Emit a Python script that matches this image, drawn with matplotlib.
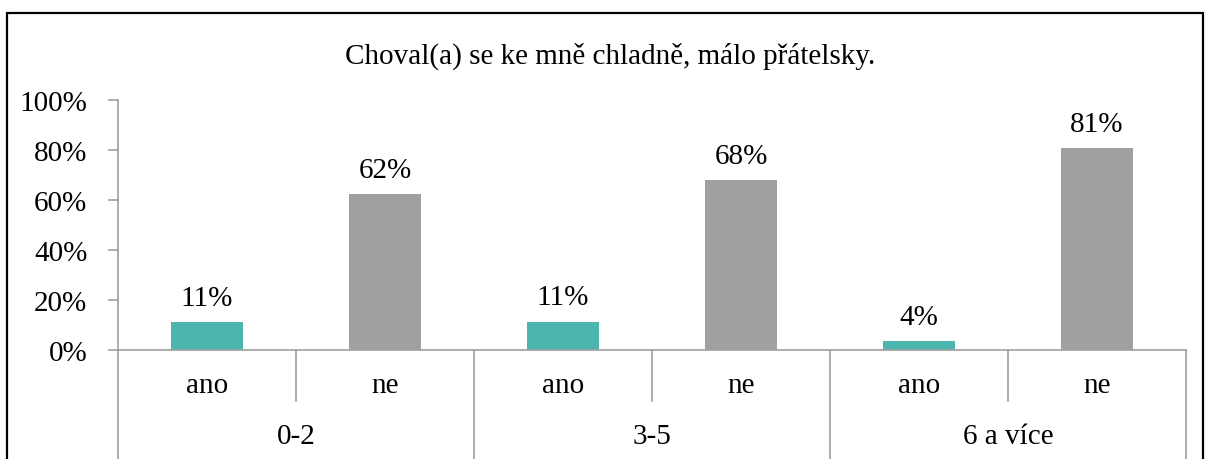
import matplotlib
matplotlib.use("Agg")
import matplotlib.pyplot as plt
from matplotlib.patches import Rectangle
import matplotlib.transforms as mtransforms

# data
title = "Choval(a) se ke mně chladně, málo přátelsky."
groups = ["0-2", "3-5", "6 a více"]
answers = ["ano", "ne"]
values = [11.2, 62.4, 11.4, 68.0, 3.6, 80.8]   # ano/ne per group, %
colors = {"ano": "#4BB5AE", "ne": "#A0A0A0"}

plt.rcParams["font.family"] = ["Liberation Serif", "DejaVu Serif"]
FS = 21
AX_COL = "#A0A0A0"

W, H = 1208, 460
fig = plt.figure(figsize=(W / 100, H / 100), dpi=100)

# outer frame
fig.patches.append(Rectangle((7 / W, -0.1), 1196 / W, 1.1 - 14 / H,
                             transform=fig.transFigure, fill=False,
                             edgecolor="black", linewidth=1.6))

ax = fig.add_axes([118 / W, (H - 351) / H, 1068 / W, 250 / H])

x = list(range(len(values)))
labels = [answers[i % 2] for i in x]
bar_colors = [colors[l] for l in labels]
ax.bar(x, values, width=0.405, color=bar_colors)

for xi, v in zip(x, values):
    ax.annotate(f"{v:.0f}%", (xi, v), xytext=(0, 8), textcoords="offset points",
                ha="center", va="bottom", fontsize=FS)

ax.set_xlim(-0.5, len(values) - 0.5)
ax.set_ylim(0, 100)
ax.set_yticks(range(0, 101, 20))
ax.set_yticklabels([f"{t}%" for t in range(0, 101, 20)], fontsize=FS)
ax.tick_params(axis="y", length=7, width=1.2, color=AX_COL, pad=15)
ax.set_xticks([])
for s in ["top", "right"]:
    ax.spines[s].set_visible(False)
for s in ["left", "bottom"]:
    ax.spines[s].set_color(AX_COL)
    ax.spines[s].set_linewidth(1.2)

trans = mtransforms.blended_transform_factory(ax.transData, ax.transAxes)
# separators between answers
for g in range(len(groups)):
    ax.plot([2 * g + 0.5] * 2, [0, -0.205], transform=trans, clip_on=False,
            color=AX_COL, lw=1.2)
# separators between groups
for g in range(len(groups) + 1):
    ax.plot([2 * g - 0.5] * 2, [0, -0.44], transform=trans, clip_on=False,
            color=AX_COL, lw=1.2)

for xi, l in zip(x, labels):
    ax.text(xi, -0.14, l, transform=trans, ha="center", va="center", fontsize=FS)
for g, name in enumerate(groups):
    ax.text(2 * g + 0.5, -0.346, name, transform=trans, ha="center", va="center",
            fontsize=FS)

fig.text(0.505, (H - 56) / H, title, ha="center", va="center", fontsize=FS)

fig.savefig("out.png", dpi=100)
